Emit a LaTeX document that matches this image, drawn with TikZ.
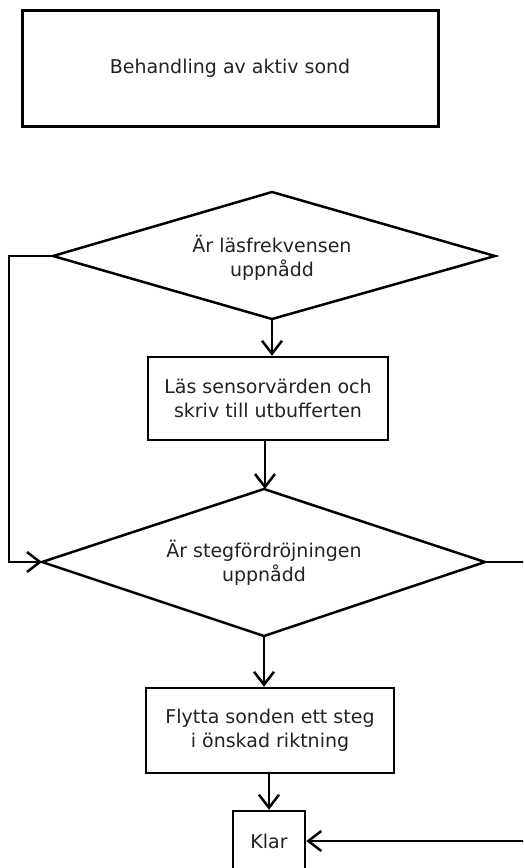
\documentclass[tikz,border=0pt]{standalone}
\usepackage{fontspec}
\setmainfont{DejaVu Sans}
\usetikzlibrary{arrows.meta}
\definecolor{ink}{HTML}{222222}
\tikzset{
  flow/.style={line width=2.5pt, draw=black, line join=miter},
  label/.style={align=center, inner sep=0pt, text=ink, font=\fontsize{19}{24}\selectfont},
  stepbox/.style={flow, rectangle, label},
  link/.style={line width=2.5pt, -{Straight Barb[length=13pt,width=20pt,line width=2.5pt]}},
}
\begin{document}
\begin{tikzpicture}[x=1pt,y=-1pt]
\useasboundingbox (0,0) rectangle (523,868);
\clip (0,0) rectangle (523,868);

% title box
\node[stepbox, line width=3pt, minimum width=416pt, minimum height=116pt] (title) at (230,68) {Behandling av aktiv sond};

% first decision: tips and text
\coordinate (d1n) at (272,192);
\coordinate (d1s) at (272,319);
\coordinate (d1w) at (53,256);
\coordinate (d1e) at (495,256);
\draw[flow] (d1n) -- (d1e) -- (d1s) -- (d1w) -- cycle;
\node[label] (d1) at (272,258) {Är läsfrekvensen\\uppnådd};

% read sensors
\node[stepbox, minimum width=240pt, minimum height=83pt] (read) at (268,398.5) {Läs sensorvärden och\\skriv till utbufferten};

% second decision: tips and text
\coordinate (d2n) at (264,489);
\coordinate (d2s) at (264,636);
\coordinate (d2w) at (42,562);
\coordinate (d2e) at (485,562);
\draw[flow] (d2n) -- (d2e) -- (d2s) -- (d2w) -- cycle;
\node[label] (d2) at (264,563) {Är stegfördröjningen\\uppnådd};

% move probe
\node[stepbox, minimum width=248pt, minimum height=85pt] (move) at (270,730.5) {Flytta sonden ett steg\\i önskad riktning};

% done
\node[stepbox, minimum width=72pt, minimum height=60pt] (done) at (269,841) {Klar};

\coordinate (lx) at (9,0);
\coordinate (rx) at (530,562);
\coordinate (rk) at (530,841);

% connectors
\draw[link] (d1s) -- (d1s |- read.north);
\draw[link] (read.south -| 265,0) -- (265,0 |- d2n);
\draw[link] (d2s) -- (d2s |- move.north);
\draw[link] (move.south -| done) -- (done.north);
\draw[link] (d1w) -- (d1w -| lx) |- (d2w);
\draw[flow] (d2e) -- (rx);
\draw[link] (rk) -- (done.east);
\end{tikzpicture}
\end{document}
